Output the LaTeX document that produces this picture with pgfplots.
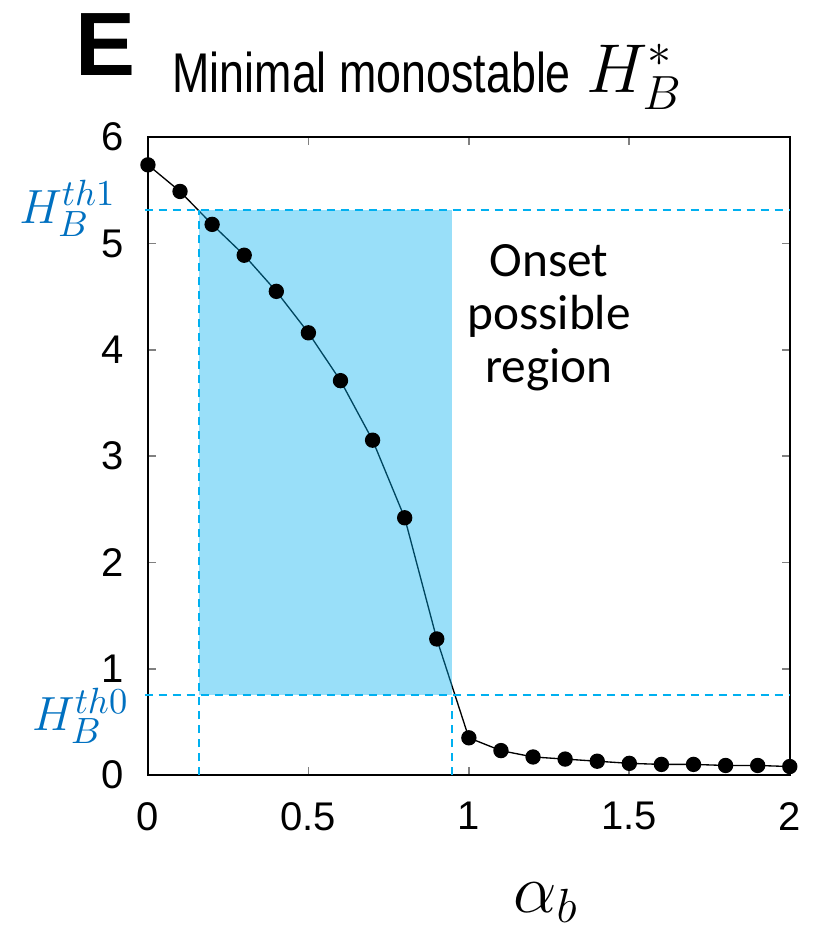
\documentclass[border=0pt]{standalone}
\usepackage{pgfplots}
\pgfplotsset{compat=1.18}
\usepackage{fontspec}
\setmainfont{Liberation Sans}
\newfontfamily\calibri{Carlito}
\definecolor{cyanline}{HTML}{00B0F0}
\definecolor{thblue}{HTML}{0070C0}
\begin{document}
\begin{tikzpicture}
\begin{axis}[
  scale only axis, width=192.6pt, height=191.4pt,
  xmin=0, xmax=2, ymin=0, ymax=6,
  xtick={0,0.5,1,1.5,2}, ytick={0,1,2,3,4,5,6},
  xticklabels={0,0.5,1,1.5,2},
  tick align=inside, major tick length=2.4pt,
  xtick pos=both, ytick pos=both,
  xticklabel pos=bottom, yticklabel pos=left,
  tick style={gray, line width=0.5pt},
  axis line style={black, line width=0.7pt},
  tick label style={font=\fontsize{12}{14}\selectfont, inner sep=1pt},
  /pgf/number format/assume math mode=true,
  xticklabel style={yshift=-7pt},
  yticklabel style={xshift=-6pt},
  clip=false,
]
\addplot[black, line width=0.4pt] coordinates {
(0,5.74) (0.1,5.49) (0.2,5.18) (0.3,4.89) (0.4,4.55) (0.5,4.16) (0.6,3.71)
(0.7,3.15) (0.8,2.42) (0.9,1.28) (1.0,0.35) (1.1,0.23) (1.2,0.17) (1.3,0.15)
(1.4,0.13) (1.5,0.11) (1.6,0.10) (1.7,0.10) (1.8,0.09) (1.9,0.09) (2.0,0.08)};
\addplot[only marks, mark=*, mark size=2.1pt, black] coordinates {
(0,5.74) (0.1,5.49) (0.2,5.18) (0.3,4.89) (0.4,4.55) (0.5,4.16) (0.6,3.71)
(0.7,3.15) (0.8,2.42) (0.9,1.28) (1.0,0.35) (1.1,0.23) (1.2,0.17) (1.3,0.15)
(1.4,0.13) (1.5,0.11) (1.6,0.10) (1.7,0.10) (1.8,0.09) (1.9,0.09) (2.0,0.08)};
\fill[cyanline, opacity=0.4] (axis cs:0.159,0.75) rectangle (axis cs:0.947,5.32);
\draw[cyanline, line width=0.6pt, dash pattern=on 2.4pt off 1.8pt]
  (axis cs:-0.01,5.32) -- (axis cs:2.0,5.32)
  (axis cs:-0.01,0.75) -- (axis cs:2.0,0.75)
  (axis cs:0.159,0) -- (axis cs:0.159,5.32)
  (axis cs:0.947,0) -- (axis cs:0.947,0.75);
\node[align=center, font=\calibri\fontsize{14.8}{15.9}\selectfont] at (axis cs:1.25,4.30) {Onset\\possible\\region};
\node[thblue, inner sep=0pt, font=\fontsize{15.5}{15.5}\selectfont] at (axis cs:-0.25,5.33) {$H_B^{th1}$};
\node[thblue, inner sep=0pt, font=\fontsize{15.5}{15.5}\selectfont] at (axis cs:-0.21,0.56) {$H_B^{th0}$};
\node[anchor=base west, inner sep=0pt, font=\bfseries\fontsize{27}{27}\selectfont] at (axis cs:-0.227,6.585) {E};
\node[anchor=base west, inner sep=0pt, font=\fontsize{16.8}{17}\selectfont] at (axis cs:0.075,6.425) {\scalebox{0.8}[1]{Minimal monostable} {\fontsize{19.5}{20}\selectfont$H_B^*$}};
\node[anchor=base, inner sep=0pt, font=\fontsize{20.5}{21}\selectfont] at (axis cs:1.24,-1.289) {$\alpha_b$};
\coordinate (bl) at (axis cs:-0.461,-1.533);
\coordinate (tr) at (axis cs:2.1215,7.291);
\end{axis}
\pgfresetboundingbox
\path (bl) rectangle (tr);
\end{tikzpicture}
\end{document}
